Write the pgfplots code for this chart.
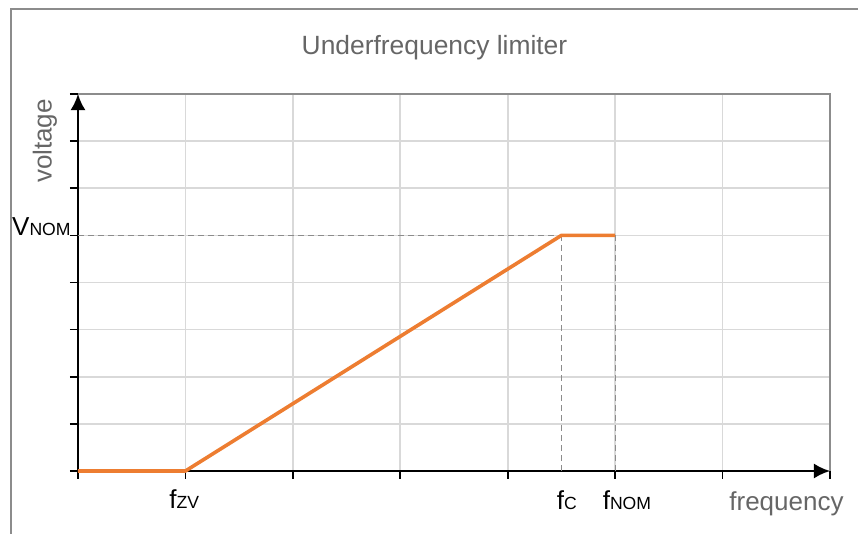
\documentclass[border=0pt]{standalone}
\usepackage{fontspec}
\setmainfont{Liberation Sans}
\usepackage{pgfplots}
\pgfplotsset{compat=1.18}
\usetikzlibrary{arrows.meta}

\definecolor{frame}{HTML}{8C8C8C}
\definecolor{gridc}{HTML}{D9D9D9}
\definecolor{txtgray}{HTML}{666666}
\definecolor{limit}{HTML}{ED7D31}

\newcommand{\sub}[1]{{\fontsize{8.8}{9}\selectfont #1}}
\newcommand{\lab}{\fontsize{13}{14}\selectfont}

\begin{document}
\begin{tikzpicture}
% page size, 1px = 0.5pt of the 858x534 reference
\useasboundingbox (-39pt,-31.5pt) rectangle (390pt,235.5pt);
\draw[frame, line width=0.8pt] (-33.5pt,-32pt) -- (-33.5pt,231pt) -- (391pt,231pt);

\begin{axis}[
    at={(0,0)}, anchor=south west,
    scale only axis,
    width=376pt, height=188.5pt,
    xmin=0, xmax=7, ymin=0, ymax=8,
    axis lines=left,
    axis line style={black, line width=1.1pt, -{Latex[length=8pt,width=7.5pt]}},
    xtick={0,...,7}, ytick={0,...,8},
    xticklabels={}, yticklabels={},
    tick align=outside,
    major tick length=4pt,
    tick style={black, line width=0.8pt},
    grid=major,
    major grid style={gridc, line width=0.85pt},
    clip=false,
]
% gray frame of the plot area (top and right)
\draw[frame, line width=1pt] (axis cs:0,8) -- (axis cs:7,8) -- (axis cs:7,0);

% guide lines
\addplot[frame, line width=0.5pt, dash pattern=on 3pt off 2pt] coordinates {(0,5) (4.5,5)};
\addplot[frame, line width=0.5pt, dash pattern=on 3pt off 2pt] coordinates {(4.5,0) (4.5,5)};
\addplot[frame, line width=0.5pt, dash pattern=on 3pt off 2pt] coordinates {(5,0) (5,5)};

% limiter characteristic
\addplot[limit, line width=1.8pt, line join=round] coordinates {
    (0,0) (1,0) (4.5,5) (5,5)
};

% axis labels
\node[anchor=base, font=\lab] at ([yshift=-19pt]axis cs:0.99,0) {f\sub{ZV}};
\node[anchor=base, font=\lab] at ([yshift=-19.5pt]axis cs:4.55,0) {f\sub{C}};
\node[anchor=base, font=\lab] at ([yshift=-19.5pt]axis cs:5.11,0) {f\sub{NOM}};
\node[anchor=base, text=txtgray, font=\lab] at ([yshift=-20pt]axis cs:6.595,0) {frequency};
\node[anchor=base east, inner sep=0pt, font=\lab] at ([xshift=-3.5pt]axis cs:0,5) {V\sub{NOM}};
\end{axis}

\node[rotate=90, text=txtgray, font=\lab] at (-16.5pt,165pt) {voltage};
\node[anchor=base, text=txtgray, font=\fontsize{13.2}{15}\selectfont] at (178.25pt,208pt) {Underfrequency limiter};
\end{tikzpicture}
\end{document}
